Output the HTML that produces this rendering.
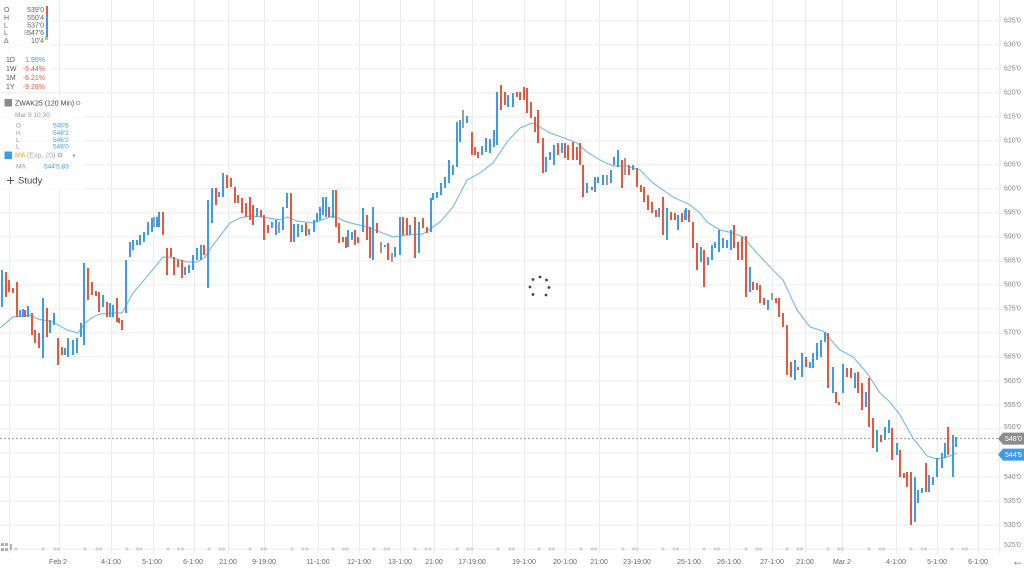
<!DOCTYPE html>
<html><head><meta charset="utf-8"><style>
html,body{margin:0;padding:0;background:#fff;}
svg{display:block;font-family:"Liberation Sans",Arial,sans-serif;}
</style></head><body>
<svg width="1024" height="568" viewBox="0 0 1024 568" xmlns="http://www.w3.org/2000/svg">
<rect width="1024" height="568" fill="#fff"/>
<g stroke="#ececec" stroke-width="1" fill="none">
<path d="M0 20.7H1001M0 44.7H1001M0 68.7H1001M0 92.7H1001M0 116.8H1001M0 140.8H1001M0 164.8H1001M0 188.8H1001M0 212.8H1001M0 236.9H1001M0 260.9H1001M0 284.9H1001M0 308.9H1001M0 332.9H1001M0 356.9H1001M0 381H1001M0 405H1001M0 429H1001M0 453H1001M0 477H1001M0 501.1H1001M0 525.1H1001M0 549.1H1001"/>
<path d="M9.5 0V553M59.5 0V553M111.5 0V553M153.5 0V553M194.5 0V553M228.5 0V553M264.5 0V553M318.5 0V553M359.5 0V553M400.5 0V553M434.5 0V553M472.5 0V553M524.5 0V553M565.5 0V553M599.5 0V553M637.5 0V553M689.5 0V553M729.5 0V553M772.5 0V553M805.5 0V553M842.5 0V553M896.5 0V553M937.5 0V553M978.5 0V553M999.5 0V553"/>
</g>
<line x1="0" y1="438.6" x2="999" y2="438.6" stroke="#9a9a9a" stroke-width="1" stroke-dasharray="2,2"/>
<!-- event markers -->
<g fill="#d4d4d4">
<circle cx="16" cy="549" r="1.6"/>
<circle cx="43" cy="549" r="1.6"/><circle cx="55" cy="549" r="1.6"/><circle cx="58.5" cy="549" r="1.6"/>
<circle cx="85" cy="549" r="1.6"/><circle cx="97" cy="549" r="1.6"/><circle cx="100.5" cy="549" r="1.6"/>
<circle cx="127" cy="549" r="1.6"/><circle cx="137.5" cy="549" r="1.6"/><circle cx="141" cy="549" r="1.6"/>
<circle cx="168" cy="549" r="1.6"/><circle cx="178.5" cy="549" r="1.6"/><circle cx="182.5" cy="549" r="1.6"/>
<circle cx="209" cy="549" r="1.6"/><circle cx="220" cy="549" r="1.6"/><circle cx="223.5" cy="549" r="1.6"/>
<circle cx="250" cy="549" r="1.6"/><circle cx="262" cy="549" r="1.6"/><circle cx="265.5" cy="549" r="1.6"/>
<circle cx="292" cy="549" r="1.6"/><circle cx="303" cy="549" r="1.6"/><circle cx="307" cy="549" r="1.6"/>
<circle cx="333" cy="549" r="1.6"/><circle cx="343.5" cy="549" r="1.6"/><circle cx="347" cy="549" r="1.6"/>
<circle cx="374" cy="549" r="1.6"/><circle cx="385" cy="549" r="1.6"/><circle cx="388.5" cy="549" r="1.6"/>
<circle cx="415" cy="549" r="1.6"/><circle cx="426" cy="549" r="1.6"/><circle cx="430" cy="549" r="1.6"/>
<circle cx="457" cy="549" r="1.6"/><circle cx="468" cy="549" r="1.6"/><circle cx="472" cy="549" r="1.6"/>
<circle cx="498" cy="549" r="1.6"/><circle cx="510" cy="549" r="1.6"/><circle cx="513.5" cy="549" r="1.6"/>
<circle cx="539" cy="549" r="1.6"/><circle cx="550" cy="549" r="1.6"/><circle cx="553.5" cy="549" r="1.6"/>
<circle cx="581" cy="549" r="1.6"/><circle cx="592" cy="549" r="1.6"/><circle cx="595.5" cy="549" r="1.6"/>
<circle cx="623" cy="549" r="1.6"/><circle cx="633.5" cy="549" r="1.6"/><circle cx="637" cy="549" r="1.6"/>
<circle cx="663" cy="549" r="1.6"/><circle cx="674" cy="549" r="1.6"/><circle cx="677.5" cy="549" r="1.6"/>
<circle cx="704" cy="549" r="1.6"/><circle cx="715" cy="549" r="1.6"/><circle cx="718.5" cy="549" r="1.6"/>
<circle cx="746" cy="549" r="1.6"/><circle cx="757" cy="549" r="1.6"/><circle cx="760.5" cy="549" r="1.6"/>
<circle cx="787" cy="549" r="1.6"/><circle cx="798" cy="549" r="1.6"/><circle cx="801.5" cy="549" r="1.6"/>
<circle cx="828" cy="549" r="1.6"/><circle cx="838.5" cy="549" r="1.6"/><circle cx="842" cy="549" r="1.6"/>
<circle cx="869" cy="549" r="1.6"/><circle cx="880" cy="549" r="1.6"/><circle cx="883.5" cy="549" r="1.6"/>
<circle cx="911" cy="549" r="1.6"/><circle cx="922" cy="549" r="1.6"/><circle cx="925.5" cy="549" r="1.6"/>
<circle cx="952" cy="549" r="1.6"/><circle cx="963" cy="549" r="1.6"/><circle cx="966.5" cy="549" r="1.6"/>
</g>
<g fill="#b0b0b0"><rect x="1" y="543" width="3" height="3"/><rect x="5" y="543" width="3" height="3"/><rect x="1" y="548" width="3" height="3"/><rect x="5" y="548" width="3" height="3"/><rect x="10" y="544" width="2" height="6"/></g>
<!-- MA line -->
<polyline fill="none" stroke="#7fbde9" stroke-width="1.2" points="0,328 13,317 30,315 38,319 53,322 67,330 78,333 85,323 93,317 100,314 113,313 122,313 133,293 150,273 163,257 173,258 187,262 197,262 205,257 213,245 220,236 230,223 240,218 250,216 263,217 280,220 287,217 297,221 313,223 333,216 347,222 367,227 380,232 393,237 407,235 423,234 433,227 440,222 453,207 467,180 480,173 493,163 507,142 520,128 532,123 540,127 550,133 567,139 577,143 587,152 600,160 613,166 627,166 640,170 653,183 673,197 690,205 700,213 707,222 720,230 733,233 743,237 757,253 770,267 783,280 797,310 810,327 823,331 840,350 853,357 867,373 880,393 890,402 900,415 913,438 927,456 937,459 947,457 957,453"/>
<!-- red bars -->
<path fill="none" stroke="#e5583f" stroke-width="2" d="M6 272V297M9 280V292M13 288V293M17 282V317M25 310V317M32 313V335M35 330V343M39 333V348M47 308V337M58 338V365M62 347V355M88 268V300M92 282V295M96 291V296M99 292V312M107 302V317M117 298V322M119 318V323M122 320V330M163 212V235M167 248V275M171 248V257M174 257V275M178 260V267M182 260V278M204 245V255M216 188V205M227 175V188M231 178V187M235 187V203M238 195V203M242 198V213M246 203V217M250 197V220M253 205V225M261 210V217M264 215V240M268 225V233M291 193V242M306 223V236M329 207V217M336 190V227M339 223V243M343 237V242M346 237V248M355 230V245M358 237V243M367 215V240M370 227V258M377 223V233M388 243V260M403 217V235M407 218V235M415 217V258M423 218V228M427 227V233M472 132V155M475 147V155M478 152V158M501 85V110M505 92V105M517 92V97M520 92V100M524 87V100M527 88V113M531 102V118M535 117V132M538 110V143M543 138V173M558 143V155M565 143V158M568 145V160M573 142V160M577 147V160M580 143V165M583 165V197M592 187V190M622 160V188M629 165V175M637 168V187M641 185V192M644 187V202M648 195V210M652 202V213M656 210V217M663 197V235M671 212V220M675 213V220M682 213V222M689 210V222M693 222V248M697 243V270M704 250V287M734 225V248M738 242V260M742 237V260M746 236V297M753 282V290M757 283V290M760 285V303M764 298V305M776 298V303M779 298V317M783 313V327M787 325V375M791 362V377M798 367V370M806 357V367M828 333V388M836 392V403M839 402V405M847 368V377M851 368V378M858 372V393M862 383V410M869 378V427M873 418V448M881 435V442M892 428V460M900 450V477M904 473V478M907 472V487M911 472V525M926 463V492M948 427V455"/>
<!-- blue bars -->
<path fill="none" stroke="#3e9be6" stroke-width="2" d="M2 270V307M20 310V317M23 309V317M28 306V317M43 298V358M50 320V333M54 313V325M65 348V355M68 338V357M73 340V355M77 338V353M81 323V337M84 263V345M103 295V307M110 303V317M113 305V317M126 260V313M130 242V257M133 240V250M137 240V245M140 235V245M144 232V242M148 222V235M152 218V232M157 217V227M159 212V227M185 267V275M189 265V273M193 255V270M197 248V260M201 245V260M208 200V288M212 188V223M219 192V197M223 173V197M257 208V217M272 222V228M276 220V235M283 207V230M287 193V208M294 224V242M298 224V237M302 225V232M309 229V235M314 220V232M317 213V222M320 207V220M323 197V215M326 197V217M333 190V218M348 230V247M352 232V240M363 208V232M373 207V260M385 245V247M395 247V257M400 217V255M410 225V235M419 222V253M431 198V232M433 193V200M437 192V198M441 183V195M445 177V188M449 160V183M453 165V175M457 122V167M460 120V142M467 116V123M482 146V155M486 138V152M490 139V153M494 130V147M497 92V145M508 95V107M513 93V107M546 157V172M550 152V160M554 145V165M562 143V153M587 183V193M595 177V192M598 177V183M603 175V185M611 170V183M614 157V165M618 150V167M633 165V170M659 208V217M667 208V240M678 215V230M685 210V220M686 208V220M701 247V262M708 257V265M712 245V260M715 242V248M719 230V252M723 238V248M727 240V248M731 230V250M750 267V292M768 300V310M795 360V380M802 353V377M810 362V368M813 353V368M817 343V360M821 340V357M825 332V342M833 367V393M843 364V393M855 373V388M866 392V407M877 430V452M885 427V440M889 420V433M897 443V455M915 477V522M918 490V503M922 488V493M929 475V492M933 477V485M937 458V477M942 453V468M945 443V458M953 435V477M956 437V447"/>
<!-- gray bars -->
<path fill="none" stroke="#9d9d9d" stroke-width="2" d="M154 217V227M279 222V233M381 242V253M392 253V262M463 110V128M607 175V185M625 158V175M772 293V300"/>
<!-- spinner -->
<g fill="#444">
<circle cx="533" cy="279.5" r="1.4"/><circle cx="540" cy="277" r="1.4"/><circle cx="546.5" cy="280" r="1.4"/>
<circle cx="530" cy="287" r="1.4"/><circle cx="549" cy="287.5" r="1.4"/>
<circle cx="533" cy="294.5" r="1.4"/><circle cx="546" cy="295" r="1.4"/>
</g>
<!-- legend panels -->
<rect x="0" y="0" width="50" height="46" fill="#fff" opacity="0.85"/>
<rect x="0" y="52" width="50" height="40" fill="#fff" opacity="0.85"/>
<rect x="0" y="95" width="86" height="95" fill="#fff" opacity="0.85"/>
<g font-size="7" fill="#666">
<text x="4" y="12">O</text><text x="44" y="12" text-anchor="end">539'0</text>
<text x="4" y="20">H</text><text x="44" y="20" text-anchor="end">550'4</text>
<text x="4" y="27.5">L</text><text x="44" y="27.5" text-anchor="end">537'0</text>
<text x="4" y="35">L</text><text x="24" y="35" fill="#aaa">B</text><text x="44" y="35" text-anchor="end">547'6</text>
<text x="4" y="43">Δ</text><text x="44" y="43" text-anchor="end">10'4</text>
</g>
<rect x="46" y="6" width="2" height="9" fill="#e5583f"/>
<rect x="46" y="15" width="2" height="23" fill="#3e9be6"/>
<rect x="45" y="37" width="3" height="3" fill="#c8c830"/>
<g font-size="7">
<text x="6" y="62" fill="#555">1D</text><text x="45" y="62" text-anchor="end" fill="#3e9be6">1.95%</text>
<text x="6" y="71" fill="#555">1W</text><text x="45" y="71" text-anchor="end" fill="#e5583f">-5.44%</text>
<text x="6" y="80" fill="#555">1M</text><text x="45" y="80" text-anchor="end" fill="#e5583f">-6.21%</text>
<text x="6" y="89" fill="#555">1Y</text><text x="45" y="89" text-anchor="end" fill="#e5583f">-9.28%</text>
</g>
<rect x="4.5" y="99" width="7.5" height="7.5" fill="#8a8a8a"/>
<text x="15" y="105.5" font-size="7" fill="#444">ZWAK25 (120 Min)</text>
<text x="78" y="105.5" font-size="7" fill="#999" text-anchor="middle">⚙</text>
<text x="15" y="117" font-size="6.5" fill="#999">Mar 5 10:30</text>
<g font-size="6.5">
<text x="16" y="127.5" fill="#999">O</text><text x="53" y="127.5" fill="#3e9be6">546'6</text>
<text x="16" y="134.8" fill="#999">H</text><text x="53" y="134.8" fill="#3e9be6">548'2</text>
<text x="16" y="141.8" fill="#999">L</text><text x="53" y="141.8" fill="#3e9be6">546'2</text>
<text x="16" y="148.5" fill="#999">L</text><text x="53" y="148.5" fill="#3e9be6">548'0</text>
</g>
<rect x="4.5" y="151.5" width="7.5" height="7.5" fill="#3e9be6"/>
<text x="15" y="157.5" font-size="7" fill="#f0a030">MA</text>
<text x="27" y="157.5" font-size="7" fill="#aaa">(Exp, 20)</text>
<text x="60" y="157.5" font-size="7" fill="#999" text-anchor="middle">⚙</text>
<text x="74" y="157.5" font-size="6" fill="#999" text-anchor="middle">▾</text>
<text x="16" y="168.5" font-size="6.5" fill="#999">MA</text>
<text x="44" y="168.5" font-size="6.5" fill="#3e9be6">544'5.83</text>
<path d="M7 180.5H14M10.5 177V184" stroke="#555" stroke-width="1"/>
<text x="18" y="183.5" font-size="9.5" fill="#444">Study</text>
<!-- right axis labels -->
<g font-size="7" fill="#888" dominant-baseline="middle">
<text x="1004" y="20.7">635'0</text><text x="1004" y="44.7">630'0</text><text x="1004" y="68.7">625'0</text><text x="1004" y="92.7">620'0</text>
<text x="1004" y="116.8">615'0</text><text x="1004" y="140.8">610'0</text><text x="1004" y="164.8">605'0</text><text x="1004" y="188.8">600'0</text>
<text x="1004" y="212.8">595'0</text><text x="1004" y="236.9">590'0</text><text x="1004" y="260.9">585'0</text><text x="1004" y="284.9">580'0</text>
<text x="1004" y="308.9">575'0</text><text x="1004" y="332.9">570'0</text><text x="1004" y="356.9">565'0</text><text x="1004" y="381">560'0</text>
<text x="1004" y="405">555'0</text><text x="1004" y="427">550'0</text><text x="1004" y="477">540'0</text>
<text x="1004" y="501.1">535'0</text><text x="1004" y="525.1">530'0</text><text x="1004" y="545">525'0</text>
</g>
<polygon points="998,438.6 1003,432.6 1024,432.6 1024,444.6 1003,444.6" fill="#8c8c8c"/>
<text x="1005" y="441.2" font-size="7" fill="#fff">548'0</text>
<polygon points="998,454.6 1003,448.6 1024,448.6 1024,460.6 1003,460.6" fill="#3e9be6"/>
<text x="1005" y="457.2" font-size="7" fill="#fff">544'5</text>
<!-- x axis labels -->
<g font-size="7" fill="#666" text-anchor="middle">
<text x="58" y="564">Feb 2</text><text x="111" y="564">4-1:00</text><text x="152" y="564">5-1:00</text><text x="193" y="564">6-1:00</text>
<text x="228" y="564">21:00</text><text x="264" y="564">9-19:00</text><text x="318" y="564">11-1:00</text><text x="359" y="564">12-1:00</text>
<text x="400" y="564">13-1:00</text><text x="434" y="564">21:00</text><text x="472" y="564">17-19:00</text><text x="524" y="564">19-1:00</text>
<text x="565" y="564">20-1:00</text><text x="599" y="564">21:00</text><text x="637" y="564">23-19:00</text><text x="689" y="564">25-1:00</text>
<text x="729" y="564">26-1:00</text><text x="772" y="564">27-1:00</text><text x="805" y="564">21:00</text><text x="842" y="564">Mar 2</text>
<text x="896" y="564">4-1:00</text><text x="937" y="564">5-1:00</text><text x="978" y="564">6-1:00</text>
</g>
<text x="1018" y="565" font-size="12" fill="#555" text-anchor="middle">←</text>
</svg>
</body></html>
